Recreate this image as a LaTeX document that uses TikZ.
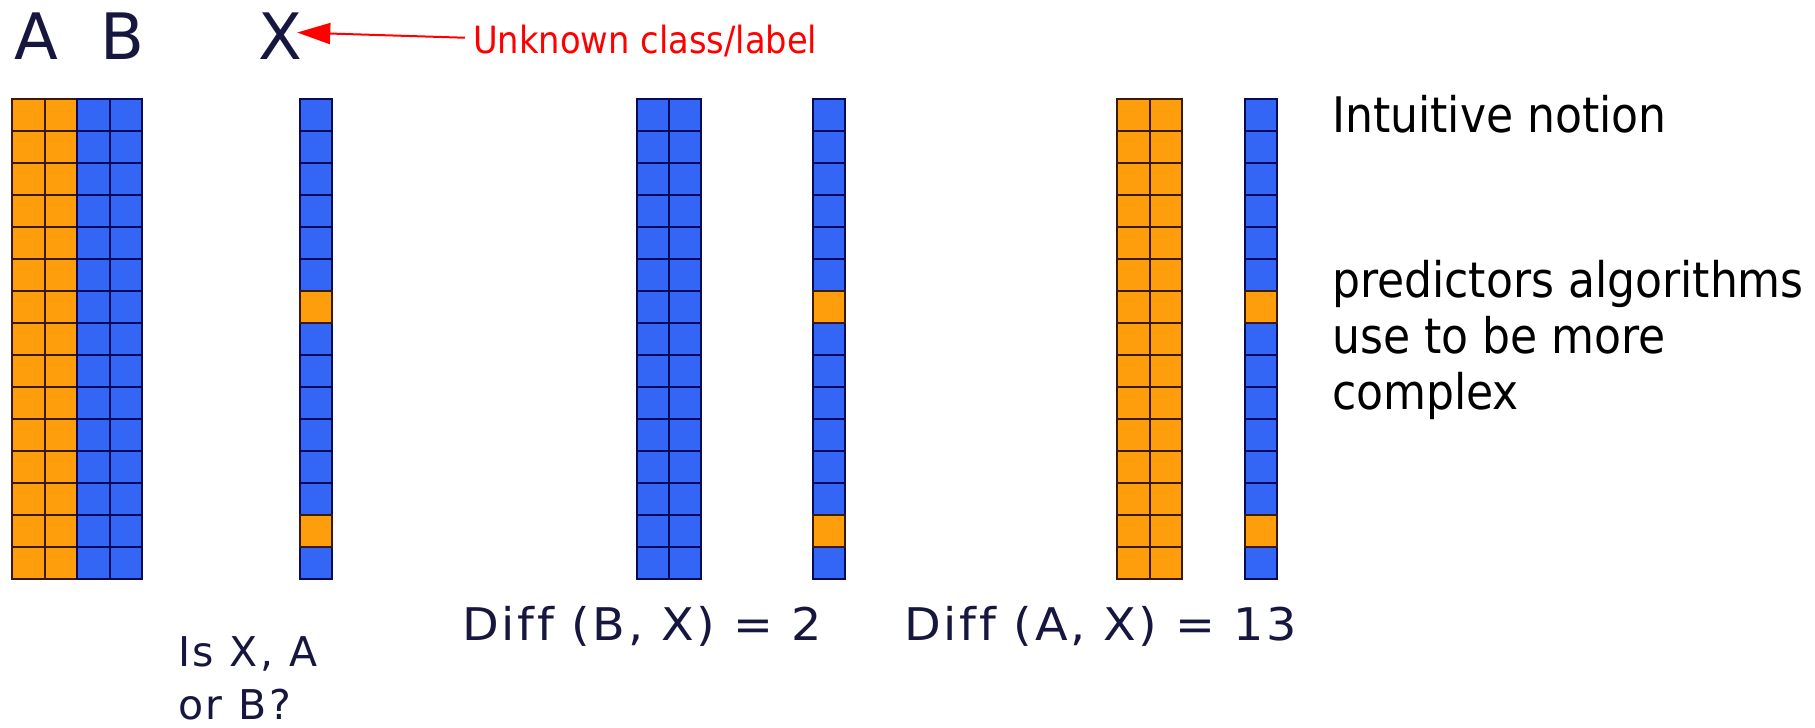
\documentclass[tikz,border=0pt]{standalone}
\usepackage{fontspec}
\setmainfont{DejaVu Sans Condensed}
\newfontfamily\navyfont{DejaVu Sans}
\newfontfamily\navyspaced[LetterSpace=6,FakeStretch=1.06,Ligatures=NoCommon]{DejaVu Sans}
\newfontfamily\askfont[LetterSpace=6.5,Ligatures=NoCommon]{DejaVu Sans}
\usetikzlibrary{arrows.meta}
\definecolor{cellorange}{HTML}{FF9E0D}
\definecolor{cellblue}{HTML}{3366F5}
\definecolor{orangeline}{HTML}{3A1A05}
\definecolor{blueline}{HTML}{0A0A5A}
\definecolor{navytext}{HTML}{16163F}
\definecolor{redtext}{HTML}{FF0000}
\tikzset{
  ocell/.style={fill=cellorange, draw=orangeline, line width=2pt},
  bcell/.style={fill=cellblue, draw=blueline, line width=2pt},
  navylbl/.style={text=navytext, inner sep=0pt, anchor=base west},
  biglbl/.style={navylbl, font=\navyfont\fontsize{64}{64}\selectfont},
  difflbl/.style={navylbl, font=\navyspaced\fontsize{45}{45}\selectfont},
  asklbl/.style={navylbl, font=\askfont\fontsize{41}{41}\selectfont},
  blacklbl/.style={text=black, inner sep=0pt, anchor=base west, font=\fontsize{49}{49}\selectfont},
}
\begin{document}
\begin{tikzpicture}[x=1pt,y=-1pt]
\useasboundingbox[fill=white] (0,0) rectangle (1815,728);
% grid columns
\foreach \cx/\cw/\cs in {12/32.5/ocell, 44.5/32.5/ocell, 77/32.5/bcell, 109.5/32.5/bcell,
                         637/32/bcell, 669/32/bcell,
                         1117/32.5/ocell, 1149.5/32.5/ocell}
  \foreach \r in {0,...,14}
    \draw[\cs] (\cx,{99+32*\r}) rectangle ++(\cw,32);
\foreach \cx in {300,813,1245}{
  \foreach \r in {0,...,14}
    \draw[bcell] (\cx,{99+32*\r}) rectangle ++(32,32);
  \foreach \r in {6,13}
    \draw[ocell] (\cx,{99+32*\r}) rectangle ++(32,32);
}
% top labels
\node[biglbl] (lblA) at (14,59) {A};
\node[biglbl] (lblB) at (100,59) {B};
\node[biglbl] (lblX) at (258,59) {X};
\node[text=redtext, inner sep=0pt, anchor=base west, font=\fontsize{37.5}{37.5}\selectfont] (unk) at (473,53) {Unknown class/label};
\draw[redtext, line width=2pt, -{Triangle[length=33pt,width=21pt]}, shorten <=8pt, shorten >=-5pt]
  ([yshift=2.5pt]unk.west) -- ([yshift=3pt]lblX.east);
% right text
\node[blacklbl] (intu) at (1332,132) {Intuitive notion};
\node[blacklbl] (pred1) at (1332,297) {predictors algorithms};
\node[blacklbl] (pred2) at (1332,353) {use to be more};
\node[blacklbl] (pred3) at (1332,409) {complex};
% bottom labels
\node[difflbl] (diffB) at (462,640) {Diff (B, X) = 2};
\node[difflbl] (diffA) at (904,640) {Diff (A, X) = 13};
\node[asklbl] (ask1) at (178,666) {Is X, A};
\node[asklbl] (ask2) at (178,719) {or B?};
\end{tikzpicture}
\end{document}
